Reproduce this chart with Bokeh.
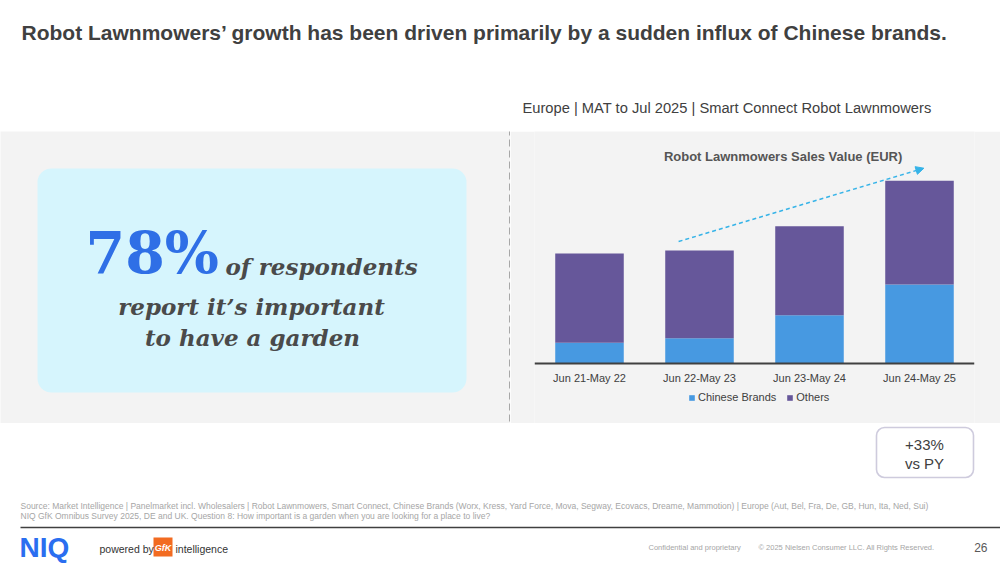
from bokeh.plotting import figure
from bokeh.models import (ColumnDataSource, FactorRange, Range1d, Legend, LegendItem,
                          Label, Arrow, NormalHead, BoxAnnotation, Span)
from bokeh.layouts import column, row
from bokeh.embed import file_html
from bokeh.resources import INLINE
from bokeh.core.properties import value

# ---------------- data ----------------
periods = ["Jun 21-May 22", "Jun 22-May 23", "Jun 23-May 24", "Jun 24-May 25"]
chinese_brands = [20.7, 25.3, 48.3, 79.0]   # relative sales value
others = [89.3, 87.7, 89.0, 103.7]
series_labels = ["Chinese Brands", "Others"]
series_colors = ["#4799e1", "#66579a"]
growth_label = ["+33%", "vs PY"]

TXT = "#404040"
BAND = "#f3f3f3"
SANS = "Liberation Sans"
SERIF = "DejaVu Serif"


def canvas(w, h, x0, x1, y_top, y_bottom, bg):
    p = figure(width=w, height=h, x_range=Range1d(x0, x1),
               y_range=Range1d(start=y_bottom, end=y_top),
               tools="", toolbar_location=None, output_backend="svg",
               min_border=0, x_axis_location=None, y_axis_location=None,
               background_fill_color=bg, border_fill_color=bg,
               outline_line_color=None)
    p.grid.visible = False
    return p


def txt(p, x, y, s, size, color=TXT, font=SANS, style="normal", align="left",
        baseline="middle"):
    p.text(x=[x], y=[y], text=[s], text_font=value(font), text_font_size=size,
           text_font_style=style, text_color=color, text_align=align,
           text_baseline=baseline)


# ---------------- header ----------------
header = canvas(1000, 131, 0, 1000, 0, 131, "white")
txt(header, 21, 32, "Robot Lawnmowers\u2019 growth has been driven primarily by a sudden influx of Chinese brands.",
    "21px", style="bold")
txt(header, 522, 107, "Europe | MAT to Jul 2025 | Smart Connect Robot Lawnmowers", "14.7px")

# ---------------- left panel ----------------
left = canvas(510, 292, 0, 510, 131, 423, BAND)
left.add_layout(BoxAnnotation(left=37, right=466, top=168, bottom=392,
                              fill_color="#d6f5fd", fill_alpha=1, line_color=None,
                              border_radius=14, level="underlay"))
left.segment(x0=[509.5], y0=[128], x1=[509.5], y1=[421], line_color="#7f7f7f",
             line_width=1.3, line_dash="7 4")
txt(left, 85, 252, "78%", "57px", color="#2f6fe6", font=SERIF, style="bold",
    baseline="alphabetic")
txt(left, 225, 266, "of respondents", "23px", color="#4a4a4a", font=SERIF,
    style="bold italic", baseline="alphabetic")
txt(left, 251, 306, "report it\u2019s important", "23px", color="#4a4a4a", font=SERIF,
    style="bold italic", align="center", baseline="alphabetic")
txt(left, 252, 337, "to have a garden", "23px", color="#4a4a4a", font=SERIF,
    style="bold italic", align="center", baseline="alphabetic")

# ---------------- chart ----------------
# frame covers the whole band; y units are such that 0 is the bar baseline
source = ColumnDataSource(dict(period=periods, chinese=chinese_brands, others=others))
chart = figure(x_range=FactorRange(*periods), y_range=Range1d(-60, 232),
               width=490, height=292, tools="", toolbar_location=None,
               output_backend="svg", min_border_left=24, min_border_right=26,
               min_border_top=0, min_border_bottom=0, y_axis_location=None,
               x_axis_location=None,
               background_fill_color=BAND, border_fill_color=BAND,
               outline_line_color=None)
chart.grid.visible = False
rs = chart.vbar_stack(["chinese", "others"], x="period", width=0.623, source=source,
                      color=series_colors, line_color=None)
# category axis: baseline + labels from the period list
chart.add_layout(Span(location=0, dimension="width", line_color=TXT, line_width=2))
chart.text(x="period", y=-14, text="period", source=source, text_font=value(SANS),
           text_font_size="11px", text_color=TXT, text_align="center",
           text_baseline="middle")

legend = Legend(items=[LegendItem(label=series_labels[i], renderers=[rs[i]]) for i in range(2)],
                orientation="horizontal", location=(154, 20), glyph_width=7, glyph_height=7,
                label_text_font=SANS, label_text_font_size="11px", label_text_color=TXT,
                background_fill_alpha=0, border_line_color=None, padding=2, margin=0,
                spacing=10, label_standoff=3, label_height=7)
chart.add_layout(legend)

chart.add_layout(Label(x=2.26, y=207.3, text="Robot Lawnmowers Sales Value (EUR)",
                       text_align="center", text_baseline="middle", text_font=SANS,
                       text_font_size="13px", text_font_style="bold", text_color="#555555"))
chart.add_layout(Arrow(x_start=1.31, y_start=122, x_end=3.54, y_end=195.3,
                       line_color="#35b3e8", line_width=1.5, line_dash="4 3",
                       end=NormalHead(size=8, fill_color="#35b3e8", line_color="#35b3e8")))

# ---------------- footer ----------------
footer = canvas(1000, 143, 0, 1000, 423, 566, "white")
footer.add_layout(BoxAnnotation(left=876, right=973, top=427, bottom=477,
                                fill_color="white", line_color="#5c5490", line_width=1.6,
                                border_radius=8, level="underlay"))
txt(footer, 924, 444, growth_label[0], "15px", align="center")
txt(footer, 924, 463, growth_label[1], "15px", align="center")
txt(footer, 20, 505, "Source: Market Intelligence | Panelmarket incl. Wholesalers | Robot Lawnmowers, Smart Connect, "
    "Chinese Brands (Worx, Kress, Yard Force, Mova, Segway, Ecovacs, Dreame, Mammotion) | Europe (Aut, Bel, Fra, De, GB, Hun, Ita, Ned, Sui)",
    "8.5px", color="#a6a6a6")
txt(footer, 20, 515, "NIQ GfK Omnibus Survey 2025, DE and UK. Question 8: How important is a garden when you are looking for a place to live?",
    "8.5px", color="#a6a6a6")
footer.segment(x0=[20], y0=[527], x1=[1000], y1=[527], line_color=TXT, line_width=1.5)
txt(footer, 19, 547, "NIQ", "28px", color="#2a6ef0", style="bold")
txt(footer, 99, 548, "powered by", "10.5px", color="#333333")
footer.add_layout(BoxAnnotation(left=153, right=172, top=537, bottom=556,
                                fill_color="#f26b21", fill_alpha=1, line_color=None,
                                level="underlay"))
txt(footer, 162.5, 547, "GfK", "9px", color="white", style="bold italic", align="center")
txt(footer, 175, 548, "intelligence", "10.5px", color="#333333")
txt(footer, 648, 547, "Confidential and proprietary", "7.5px", color="#a6a6a6")
txt(footer, 758, 547, "\u00a9 2025 Nielsen Consumer LLC. All Rights Reserved.", "7.5px", color="#a6a6a6")
txt(footer, 987, 547, "26", "12px", color="#595959", align="right")

layout = column(header, row(left, chart, spacing=0), footer, spacing=0)
open("out.html", "w").write(file_html(layout, INLINE))
